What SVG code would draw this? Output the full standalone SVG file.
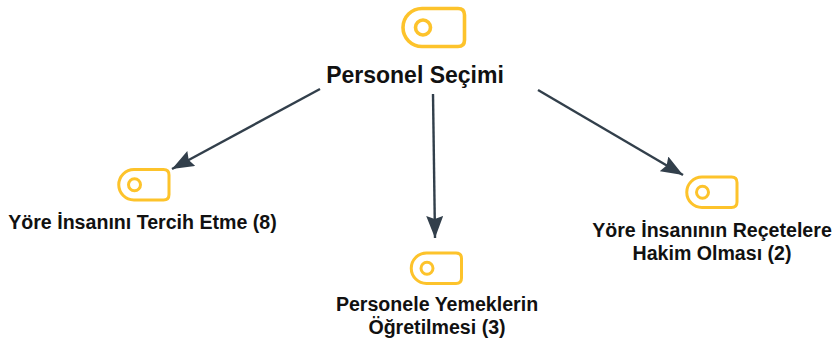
<svg xmlns="http://www.w3.org/2000/svg" width="832" height="342" viewBox="0 0 832 342">
<style>
.tag{fill:none;stroke:#fdc32b;stroke-width:3}
.thick{stroke-width:3.600}
.big{font:bold 23px "Liberation Sans",Arial,sans-serif;fill:#111;text-anchor:middle}
.lbl{font:bold 19.6px "Liberation Sans",Arial,sans-serif;fill:#111;text-anchor:middle}
.con{fill:none;stroke:#323f4b;stroke-width:2.400;marker-end:url(#arrow)}
</style>
<defs>
<marker id="arrow" markerUnits="userSpaceOnUse" markerWidth="24" markerHeight="18" refX="22" refY="8.500" orient="auto"><path d="M0 0L22 8.500L0 17L3 8.500Z" fill="#323f4b"/></marker>
<g id="tagicon"><path class="tag thick" d="M19 1.500H55Q61.500 1.500 61.500 8V33Q61.500 39.500 55 39.500H19A19 19 0 0 1 19 1.500Z"/><circle class="tag thick" cx="20" cy="20.500" r="7.500"/></g>
<g id="tagsmall"><path class="tag" d="M15.500 1.500H45Q50.500 1.500 50.500 7V26.500Q50.500 32 45 32H15.500A15.250 15.250 0 0 1 15.500 1.500Z"/><circle class="tag" cx="16" cy="16.750" r="6"/></g>
</defs>
<g id="connectors">
<path class="con" d="M320 89L172 169"/>
<path class="con" d="M433 94L435 238"/>
<path class="con" d="M538 90L683 175"/>
</g>
<g id="n0"><use href="#tagicon" x="403" y="7"/><text class="big" x="415" y="82.500">Personel Seçimi</text></g>
<g id="n1"><use href="#tagsmall" x="118.500" y="168"/><text class="lbl" x="142.500" y="229">Yöre İnsanını Tercih Etme (8)</text></g>
<g id="n2"><use href="#tagsmall" x="411" y="251.500"/><text class="lbl" x="437" y="311">Personele Yemeklerin</text><text class="lbl" x="437" y="334">Öğretilmesi (3)</text></g>
<g id="n3"><use href="#tagsmall" x="686.500" y="175.500"/><text class="lbl" x="712" y="237">Yöre İnsanının Reçetelere</text><text class="lbl" x="712" y="260">Hakim Olması (2)</text></g>
</svg>
